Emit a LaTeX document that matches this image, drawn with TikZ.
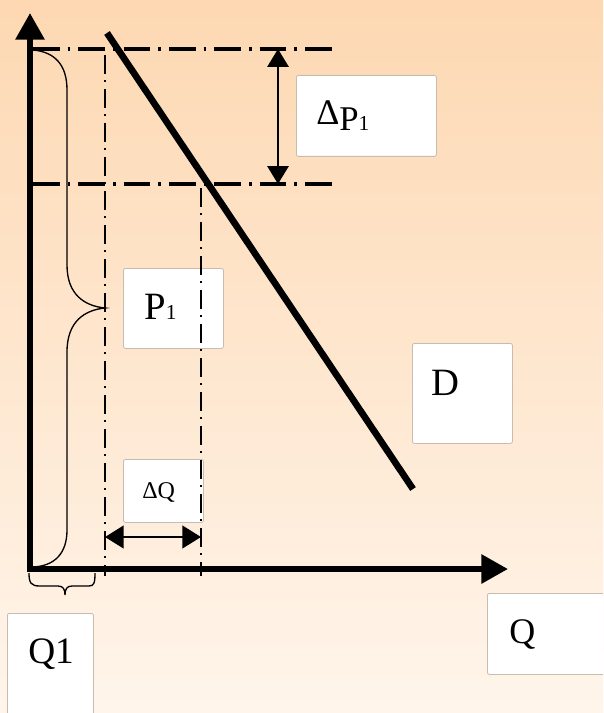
\documentclass[tikz,border=0pt]{standalone}
\usepackage{fontspec}
\setmainfont{Liberation Serif}
\usetikzlibrary{arrows.meta}
\definecolor{bgtop}{RGB}{253,216,178}
\definecolor{bgbot}{RGB}{255,245,235}
\definecolor{boxborder}{RGB}{200,188,176}
\begin{document}
\begin{tikzpicture}[x=0.75pt,y=-0.75pt,
  box/.style={draw=boxborder,fill=white,rounded corners=1.5pt,line width=0.6pt,inner sep=0pt,anchor=north west},
  lbl/.style={inner sep=0pt,anchor=base west,text=black},
  axisline/.style={line width=4.5pt,-{Triangle[width=21pt,length=20pt]}},
  dashdotline/.style={line width=2.3pt,dash pattern=on 20pt off 6pt on 2pt off 6pt},
  vdashdot/.style={line width=1.5pt,dash pattern=on 14pt off 5pt on 1.5pt off 5pt},
  dimarrow/.style={line width=1.7pt,{Triangle[width=16pt,length=13.5pt]}-{Triangle[width=16pt,length=13.5pt]}},
  bracepath/.style={line width=1pt}]
\useasboundingbox (0,0) rectangle (603,713);
\clip (0,0) rectangle (603,713);
\shade[top color=bgtop,bottom color=bgbot] (0,0) rectangle (603,713);

% boxes
\node[box,minimum width=105pt,minimum height=60.75pt] (bDP) at (296,75) {};
\node[box,minimum width=75pt,minimum height=60pt] (bP) at (123,268) {};
\node[box,minimum width=60pt,minimum height=47.25pt] (bDQ) at (123,459) {};
\node[box,minimum width=75pt,minimum height=75pt] (bD) at (412,343) {};
\node[box,minimum width=92.25pt,minimum height=60.75pt] (bQ) at (487,593) {};
\node[box,minimum width=64.5pt,minimum height=77.25pt] (bQ1) at (7,613) {};

% coordinates
\coordinate (O) at (30,569);
\coordinate (Ytop) at (30,13);
\coordinate (Xs) at (27,569);
\coordinate (Xend) at (508,569);
\coordinate (H1a) at (33,49);
\coordinate (H1b) at (338,49);
\coordinate (H2a) at (33,184);
\coordinate (H2b) at (338,184);
\coordinate (V1a) at (105,55);
\coordinate (V1b) at (105,576);
\coordinate (V2a) at (201,188);
\coordinate (V2b) at (201,576);
\coordinate (Da) at (107,33);
\coordinate (Db) at (413,489);
\coordinate (DPa) at (278,49);
\coordinate (DPb) at (278,184);
\coordinate (DQa) at (105,537);
\coordinate (DQb) at (201,537);

% dash-dot guides
\draw[dashdotline] (H1a) -- (H1b);
\draw[dashdotline] (H2a) -- (H2b);
\draw[vdashdot] (V1a) -- (V1b);
\draw[vdashdot] (V2a) -- (V2b);

% axes
\draw[axisline] (O) -- (Ytop);
\draw[axisline] (Xs) -- (Xend);

% demand line
\draw[line width=5pt] (Da) -- (Db);

% dimension arrows
\draw[dimarrow] (DPa) -- (DPb);
\draw[line width=1.7pt,{Triangle[width=17pt,length=14pt]}-{Triangle[width=17pt,length=14pt]}] (DQa) -- (DQb);

% big brace
\draw[bracepath] (33,50) .. controls (55,52) and (67,65) .. (67,90) -- (67,265)
  .. controls (67,295) and (85,306) .. (105,308)
  .. controls (85,310) and (67,321) .. (67,352) -- (67,530)
  .. controls (67,553) and (55,566) .. (33,567);

% small brace
\draw[bracepath] (29,573) .. controls (29,583) and (31,586) .. (40,586) -- (58,586)
  .. controls (63,586) and (65,589) .. (65,595)
  .. controls (65,589) and (67,586) .. (72,586) -- (89,586)
  .. controls (94,586) and (95,583) .. (95,573);

% labels
\node[lbl] (tDP) at (316,131) {\raisebox{5pt}{\fontsize{27}{27}\selectfont Δ}\fontsize{26}{26}\selectfont P\fontsize{16}{16}\selectfont 1};
\node[lbl] (tP) at (144,319) {\fontsize{29}{29}\selectfont P\fontsize{16}{16}\selectfont 1};
\node[lbl] (tDQ) at (142,498) {\fontsize{18}{18}\selectfont ΔQ};
\node[lbl] (tD) at (431,395) {\fontsize{29}{29}\selectfont D};
\node[lbl] (tQ) at (509,643) {\fontsize{27}{27}\selectfont Q};
\node[lbl] (tQ1) at (28,663) {\fontsize{28}{28}\selectfont Q1};
\end{tikzpicture}
\end{document}
